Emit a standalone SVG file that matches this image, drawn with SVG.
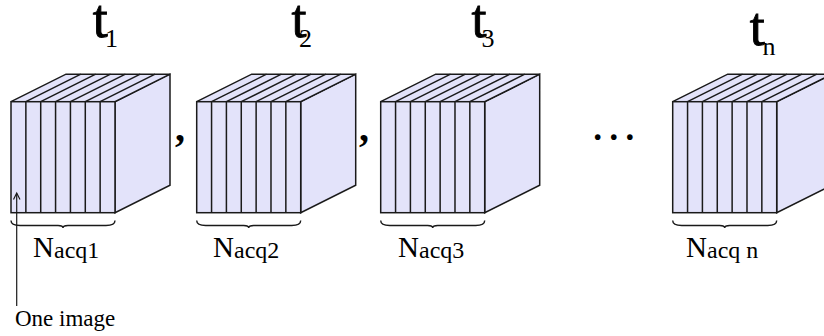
<svg xmlns="http://www.w3.org/2000/svg" xmlns:xlink="http://www.w3.org/1999/xlink" width="824" height="336" viewBox="0 0 824 336">
<style>
.face{fill:#e3e3fa;stroke:#1a1a1a;stroke-width:1.5;stroke-linejoin:miter}
.ln{stroke:#1a1a1a;stroke-width:1.5;fill:none}
.brace{stroke:#1a1a1a;stroke-width:1.4;fill:none}
text{font-family:'Liberation Serif','Times New Roman',serif;fill:#000}
.big{font-size:54px;stroke:#000;stroke-width:0.9}
.sub{font-size:26px}
.n{font-size:29px}
.ns{font-size:24px}
.lbl{font-size:23px}
.punc{font-size:40px;font-weight:bold}
</style>
<defs>
<g id="cube">
<polygon class="face" points="104,0 159,-27.5 159,83.5 104,111"/>
<polygon class="face" points="0,0 55,-27.5 159,-27.5 104,0"/>
<rect class="face" x="0" y="0" width="104" height="111"/>
<path class="ln" d="M14.86,0V111M29.71,0V111M44.57,0V111M59.43,0V111M74.29,0V111M89.14,0V111M14.86,0l55,-27.5M29.71,0l55,-27.5M44.57,0l55,-27.5M59.43,0l55,-27.5M74.29,0l55,-27.5M89.14,0l55,-27.5"/>
</g>
<path id="brace" class="brace" d="M0,0C0,4 3,5 9,5L47,5C51,5 52,6 52,7.5C52,6 53,5 57,5L95,5C101,5 104,4 104,0"/>
</defs>
<g id="cube1">
<use xlink:href="#cube" transform="translate(11,101.7)"/>
<use xlink:href="#brace" transform="translate(11,220.5)"/>
<text class="big" x="92.8" y="37">t</text><text class="sub" x="105" y="46.5">1</text>
<text class="n" x="33" y="256.5">N</text><text class="ns" x="54" y="257.5">acq1</text>
</g>
<g id="comma1"><text class="punc" x="175" y="141">,</text></g>
<g id="cube2">
<use xlink:href="#cube" transform="translate(196.7,101.7)"/>
<use xlink:href="#brace" transform="translate(196.7,220.5)"/>
<text class="big" x="291.5" y="37">t</text><text class="sub" x="299" y="46.5">2</text>
<text class="n" x="213" y="256.5">N</text><text class="ns" x="234" y="257.5">acq2</text>
</g>
<g id="comma2"><text class="punc" x="359" y="141">,</text></g>
<g id="cube3">
<use xlink:href="#cube" transform="translate(380.7,101.7)"/>
<use xlink:href="#brace" transform="translate(380.7,220.5)"/>
<text class="big" x="471.5" y="37">t</text><text class="sub" x="481.4" y="46.5">3</text>
<text class="n" x="398" y="256.5">N</text><text class="ns" x="419" y="257.5">acq3</text>
</g>
<g id="ellipsis"><text style="font-size:48px" x="589.7" y="140">…</text></g>
<g id="cuben">
<use xlink:href="#cube" transform="translate(672.7,101.7)"/>
<use xlink:href="#brace" transform="translate(672.7,220.5)"/>
<text class="big" x="749.8" y="45">t</text><text class="sub" x="762.6" y="55">n</text>
<text class="n" x="686" y="256.5">N</text><text class="ns" x="707" y="257.5">acq n</text>
</g>
<g id="one-image"><text class="lbl" x="15" y="326">One image</text></g>
<g id="connectors">
<line class="ln" x1="16.7" y1="306" x2="16.7" y2="193.5" style="stroke-width:1.2"/>
<polyline class="ln" points="13.5,199.5 16.7,193 20,199.5" style="stroke-width:1.2"/>
</g>
</svg>
